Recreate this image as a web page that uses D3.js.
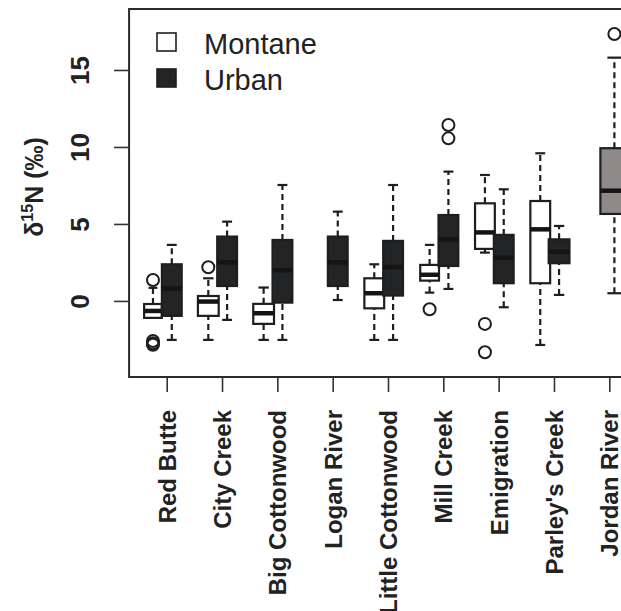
<!DOCTYPE html>
<html>
<head>
<meta charset="utf-8">
<script src="https://cdn.jsdelivr.net/npm/d3@7"></script>
<style>
  body { margin: 0; background: #fff; }
  svg { display: block; }
</style>
</head>
<body>
<svg id="chart" width="621" height="611"></svg>
<script>
// ---------------- DATA ----------------
const sites = ["Red Butte", "City Creek", "Big Cottonwood", "Logan River",
  "Little Cottonwood", "Mill Creek", "Emigration", "Parley's Creek", "Jordan River"];
const groups = ["Montane", "Urban"];

// [lower whisker, Q1, median, Q3, upper whisker]; null = no samples
const montaneStats = [
  [-1.1, -1.1, -0.65, -0.2, 0.85],
  [-2.53, -0.97, -0.04, 0.32, 1.47],
  [-2.53, -1.49, -0.8, -0.19, 0.87],
  null,
  [-2.53, -0.48, 0.5, 1.47, 2.38],
  [0.54, 1.32, 1.7, 2.34, 3.64],
  [3.14, 3.38, 4.45, 6.34, 8.18],
  [-2.86, 1.15, 4.65, 6.49, 9.59],
  null
];
const montaneOutliers = [
  [1.36, -2.6, -2.75, -2.85], [2.19], [], [], [], [-0.54], [-1.49, -3.33], [], []
];
const montaneN = [8, 11, 11, 0, 10, 9, 10, 10, 0];

const urbanStats = [
  [-2.53, -0.97, 0.8, 2.38, 3.64],
  [-1.23, 0.97, 2.5, 4.18, 5.15],
  [-2.53, -0.11, 2.0, 3.96, 7.53],
  [0.06, 0.97, 2.5, 4.18, 5.8],
  [-2.53, 0.35, 2.2, 3.9, 7.53],
  [0.78, 2.27, 4.0, 5.58, 8.4],
  [-0.41, 1.15, 2.8, 4.29, 7.25],
  [0.39, 2.45, 3.2, 4.0, 4.87],
  [0.5, 5.65, 7.16, 9.92, 15.8]
];
const urbanOutliers = [[], [], [], [], [], [10.56, 11.43], [], [], [17.34]];
const urbanN = [10, 10, 10, 10, 10, 10, 10, 11, 20];

const yTicks = [0, 5, 10, 15];

// ---------------- LAYOUT ----------------
const svg = d3.select("#chart");
const font = "'Liberation Sans', Arial, Helvetica, sans-serif";

const x = d3.scaleLinear().domain([1, 9]).range([166.7, 609.3]);
const y = d3.scaleLinear().domain([-4.94, 18.96]).range([377, 9]);
const maxN = d3.max(montaneN.concat(urbanN));
const boxW = n => 28 * Math.sqrt(n / maxN);

const frameL = x(0.32), frameR = x(9.7);

// plot frame
svg.append("rect")
  .attr("x", frameL).attr("y", y(18.96))
  .attr("width", frameR - frameL).attr("height", y(-4.94) - y(18.96))
  .attr("fill", "none").attr("stroke", "#2b2b2b").attr("stroke-width", 2);

// y axis
const yAxis = svg.append("g")
  .attr("transform", `translate(${frameL},0)`)
  .call(d3.axisLeft(y).tickValues(yTicks).tickSize(15).tickFormat(d3.format("d")));
yAxis.select(".domain").remove();
yAxis.selectAll(".tick line").attr("stroke", "#333").attr("stroke-width", 1.6);
yAxis.selectAll(".tick text")
  .attr("x", 0).attr("y", -40).attr("dy", 0)
  .attr("transform", "rotate(-90)")
  .attr("text-anchor", "middle")
  .attr("font-family", font).attr("font-weight", "bold")
  .attr("font-size", 26).attr("fill", "#222");

// x axis
const xAxis = svg.append("g")
  .attr("transform", `translate(0,${y(-4.94)})`)
  .call(d3.axisBottom(x).tickValues(d3.range(1, sites.length + 1)).tickSize(15)
    .tickFormat((d, i) => sites[i]));
xAxis.select(".domain").remove();
xAxis.selectAll(".tick line").attr("stroke", "#333").attr("stroke-width", 1.6);
xAxis.selectAll(".tick text")
  .attr("x", -33).attr("y", 8.5).attr("dy", 0)
  .attr("transform", "rotate(-90)")
  .attr("text-anchor", "end")
  .attr("font-family", font).attr("font-weight", "bold")
  .attr("font-size", 24).attr("fill", "#222");

// y title
const yt = svg.append("text")
  .attr("transform", `translate(43,${y(7.4)}) rotate(-90)`)
  .attr("text-anchor", "middle")
  .attr("font-family", font).attr("font-weight", "bold")
  .attr("font-size", 25).attr("fill", "#222");
yt.append("tspan").text("δ");
yt.append("tspan").attr("font-size", 16).attr("dy", -10).text("15");
yt.append("tspan").attr("dy", 10).text("N (‰)");

// ---------------- BOXES ----------------
const series = [
  { name: "Montane", stats: montaneStats, out: montaneOutliers, n: montaneN, offset: -0.248 },
  { name: "Urban", stats: urbanStats, out: urbanOutliers, n: urbanN, offset: 0.092 }
];
const fillFor = (s, i) => s.name === "Montane" ? "#ffffff"
  : (sites[i] === "Jordan River" ? "#8f898a" : "#222426");

const plot = svg.append("g");
series.forEach(s => {
  s.stats.forEach((st, i) => {
    if (!st) return;
    const [lo, q1, med, q3, hi] = st;
    const cx = x(i + 1 + s.offset);
    const w = boxW(s.n[i]);
    const g = plot.append("g");
    // whiskers
    [[lo, q1], [q3, hi]].forEach(([a, b]) => {
      if (a === b) return;
      g.append("line").attr("x1", cx).attr("x2", cx).attr("y1", y(a)).attr("y2", y(b))
        .attr("stroke", "#1e1e1e").attr("stroke-width", 2.2).attr("stroke-dasharray", "6,4");
    });
    // staples
    [lo, hi].forEach(v => {
      g.append("line").attr("x1", cx - w / 4).attr("x2", cx + w / 4)
        .attr("y1", y(v)).attr("y2", y(v))
        .attr("stroke", "#1e1e1e").attr("stroke-width", 2.2);
    });
    // box
    g.append("rect").attr("x", cx - w / 2).attr("width", w)
      .attr("y", y(q3)).attr("height", y(q1) - y(q3))
      .attr("fill", fillFor(s, i)).attr("stroke", "#1e1e1e").attr("stroke-width", 2.2);
    // median
    g.append("line").attr("x1", cx - w / 2).attr("x2", cx + w / 2)
      .attr("y1", y(med)).attr("y2", y(med))
      .attr("stroke", "#141414").attr("stroke-width", 4.5);
    // outliers
    s.out[i].forEach(v => {
      g.append("circle").attr("cx", cx).attr("cy", y(v)).attr("r", 6)
        .attr("fill", "none").attr("stroke", "#1e1e1e").attr("stroke-width", 2);
    });
  });
});

// ---------------- LEGEND ----------------
const legend = svg.append("g").attr("transform", "translate(156,33)");
groups.forEach((gname, k) => {
  const row = legend.append("g").attr("transform", `translate(0,${k * 36})`);
  row.append("rect").attr("x", 1).attr("y", 0).attr("width", 19).attr("height", 18)
    .attr("fill", gname === "Montane" ? "#fff" : "#222426")
    .attr("stroke", "#1e1e1e").attr("stroke-width", 1.6);
  row.append("text").attr("x", 48).attr("y", 20.5)
    .attr("font-family", font).attr("font-size", 29).attr("fill", "#222")
    .text(gname);
});
</script>
</body>
</html>
